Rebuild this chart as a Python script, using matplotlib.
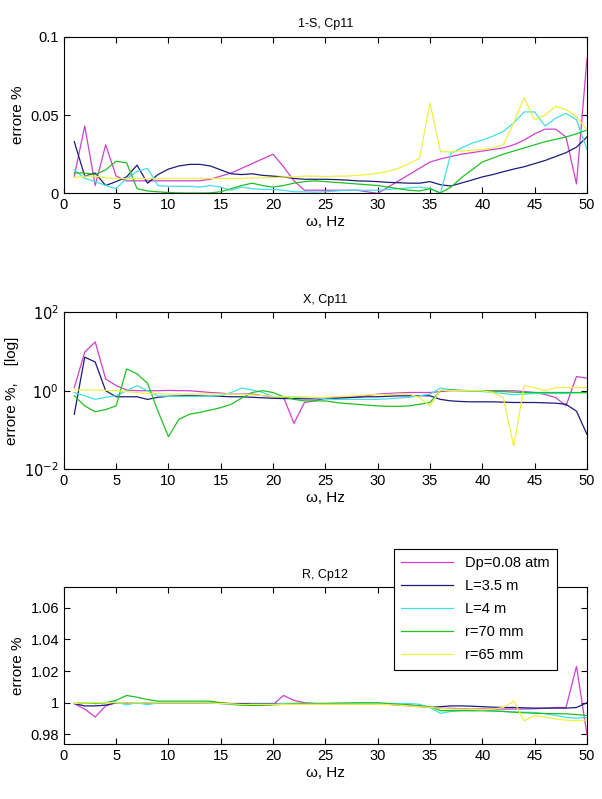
import matplotlib
matplotlib.use("Agg")
import matplotlib.pyplot as plt
import numpy as np

plt.rcParams['font.family'] = ['Liberation Sans', 'DejaVu Sans']

# frequency axis, Hz
freq = np.arange(1, 51)

labels = ['Dp=0.08 atm', 'L=3.5 m', 'L=4 m', 'r=70 mm', 'r=65 mm']
colors = ['#d040d0', '#1c1c7a', '#40e0e8', '#20c020', '#f0f040']

# 1-S, Cp11
s_dp = [0.011, 0.043, 0.005, 0.031, 0.011, 0.008, 0.008, 0.008, 0.008, 0.008,
        0.008, 0.008, 0.008, 0.009, 0.011, 0.013, 0.016, 0.019, 0.022, 0.025,
        0.017, 0.008, 0.002, 0.002, 0.002, 0.002, 0.002, 0.002, 0.001, 0.000,
        0.004, 0.008, 0.012, 0.016, 0.020, 0.022, 0.0235, 0.025, 0.026, 0.027,
        0.028, 0.029, 0.031, 0.034, 0.038, 0.041, 0.041, 0.036, 0.006, 0.086]
s_l35 = [0.033, 0.011, 0.013, 0.005, 0.0075, 0.0105, 0.018, 0.0065, 0.012, 0.0155,
         0.0175, 0.0185, 0.0185, 0.0175, 0.015, 0.0125, 0.012, 0.0125, 0.0115, 0.011,
         0.0105, 0.0095, 0.009, 0.009, 0.009, 0.0088, 0.0085, 0.008, 0.0078, 0.0075,
         0.007, 0.0068, 0.0065, 0.0065, 0.0075, 0.0055, 0.0047, 0.0066, 0.0085, 0.0105,
         0.012, 0.0138, 0.0155, 0.017, 0.019, 0.021, 0.0235, 0.026, 0.0295, 0.036]
s_l4 = [0.015, 0.0095, 0.0075, 0.005, 0.003, 0.0095, 0.014, 0.016, 0.005, 0.0045,
        0.0045, 0.0045, 0.004, 0.005, 0.004, 0.002, 0.004, 0.003, 0.0025, 0.0025,
        0.002, 0.001, 0.001, 0.0008, 0.001, 0.0015, 0.002, 0.002, 0.002, 0.002,
        0.0025, 0.003, 0.0035, 0.004, 0.003, 0.000, 0.0255, 0.029, 0.032, 0.034,
        0.0365, 0.0395, 0.045, 0.052, 0.052, 0.043, 0.048, 0.051, 0.047, 0.028]
s_r70 = [0.013, 0.013, 0.012, 0.015, 0.0205, 0.0195, 0.003, 0.0015, 0.001, 0.0005,
         0.0003, 0.0002, 0.0002, 0.0003, 0.001, 0.003, 0.005, 0.0065, 0.005, 0.004,
         0.005, 0.0065, 0.0075, 0.008, 0.0075, 0.007, 0.0065, 0.006, 0.0055, 0.005,
         0.004, 0.003, 0.002, 0.0015, 0.003, 0.0003, 0.004, 0.010, 0.015, 0.020,
         0.0225, 0.025, 0.027, 0.029, 0.031, 0.033, 0.0345, 0.036, 0.038, 0.0405]
s_r65 = [0.010, 0.011, 0.011, 0.010, 0.0095, 0.0095, 0.0095, 0.0095, 0.0095, 0.0095,
         0.0095, 0.0095, 0.0095, 0.0095, 0.0095, 0.0095, 0.0095, 0.0098, 0.010, 0.010,
         0.0105, 0.0105, 0.011, 0.011, 0.0107, 0.011, 0.011, 0.0115, 0.012, 0.0128,
         0.014, 0.016, 0.019, 0.0224, 0.0577, 0.0267, 0.0265, 0.027, 0.0275, 0.028,
         0.029, 0.031, 0.045, 0.061, 0.047, 0.050, 0.0555, 0.0535, 0.049, 0.0405]

# X, Cp11 (log)
x_dp = [1.2, 9.7, 17.6, 2.0, 1.35, 1.04, 1.0, 1.0, 1.0, 1.02,
        1.0, 1.0, 0.95, 0.9, 0.87, 0.82, 0.82, 0.82, 0.75, 0.7,
        0.68, 0.147, 0.5, 0.55, 0.65, 0.67, 0.68, 0.7, 0.75, 0.82,
        0.85, 0.88, 0.9, 0.9, 0.9, 0.95, 1.0, 1.0, 1.0, 1.0,
        1.0, 1.0, 1.0, 0.95, 0.9, 0.8, 0.67, 0.41, 2.3, 2.1]
x_l35 = [0.25, 7.2, 5.4, 1.0, 0.7, 0.7, 0.7, 0.6, 0.68, 0.72,
         0.74, 0.76, 0.74, 0.72, 0.72, 0.7, 0.7, 0.68, 0.66, 0.64,
         0.63, 0.63, 0.62, 0.62, 0.63, 0.64, 0.66, 0.68, 0.7, 0.7,
         0.72, 0.74, 0.74, 0.75, 0.74, 0.6, 0.55, 0.53, 0.52, 0.52,
         0.52, 0.51, 0.5, 0.5, 0.5, 0.49, 0.48, 0.45, 0.3, 0.077]
x_l4 = [0.9, 0.74, 0.6, 0.68, 0.74, 1.0, 1.35, 1.0, 0.74, 0.72,
        0.72, 0.72, 0.72, 0.72, 0.75, 0.9, 1.17, 1.05, 0.9, 0.7,
        0.68, 0.7, 0.68, 0.66, 0.62, 0.6, 0.6, 0.6, 0.6, 0.6,
        0.62, 0.65, 0.68, 0.74, 0.82, 1.17, 1.05, 1.0, 0.98, 0.95,
        0.9, 0.85, 0.79, 0.82, 0.85, 0.85, 0.85, 0.85, 0.88, 0.9]
x_r70 = [0.74, 0.41, 0.29, 0.33, 0.41, 3.6, 2.7, 1.55, 0.3, 0.067,
         0.186, 0.25, 0.28, 0.32, 0.37, 0.45, 0.65, 0.9, 1.0, 0.9,
         0.7, 0.6, 0.55, 0.55, 0.55, 0.5, 0.47, 0.45, 0.43, 0.41,
         0.4, 0.4, 0.41, 0.45, 0.5, 1.0, 1.05, 1.02, 1.0, 1.0,
         0.98, 0.95, 0.92, 0.9, 0.9, 0.9, 0.9, 0.9, 0.9, 0.9]
x_r65 = [1.04, 1.04, 1.04, 1.02, 1.0, 0.95, 0.9, 0.85, 0.85, 0.82,
         0.82, 0.82, 0.82, 0.82, 0.82, 0.82, 0.8, 0.78, 0.75, 0.72,
         0.7, 0.7, 0.68, 0.67, 0.68, 0.7, 0.72, 0.75, 0.78, 0.8,
         0.8, 0.82, 0.82, 0.67, 0.41, 1.04, 1.0, 1.0, 1.0, 1.0,
         0.9, 0.67, 0.038, 1.35, 1.2, 1.0, 1.2, 1.2, 1.2, 1.2]

# R, Cp12
r_dp = [0.9994, 0.996, 0.991, 0.998, 1.0, 1.0, 1.0, 1.0, 1.0, 1.0,
        1.0, 1.0, 1.0, 1.0, 0.9995, 0.999, 0.999, 0.9985, 0.9985, 0.9988,
        1.0046, 1.0015, 1.0, 0.9995, 0.999, 0.999, 0.999, 0.999, 0.999, 0.999,
        0.999, 0.9985, 0.998, 0.9975, 0.997, 0.9965, 0.9965, 0.9962, 0.996, 0.996,
        0.996, 0.996, 0.996, 0.996, 0.9962, 0.9965, 0.997, 0.997, 1.023, 0.980]
r_l35 = [0.9995, 0.998, 0.998, 0.9985, 1.0, 1.0, 1.0, 1.0, 1.0, 1.0,
         1.0, 1.0, 1.0, 1.0, 0.9998, 0.9995, 0.9995, 0.9995, 0.9995, 0.9995,
         0.9995, 0.9995, 0.9995, 0.9995, 0.9995, 0.9995, 0.9995, 0.9995, 0.9995, 0.9993,
         0.999, 0.9988, 0.9985, 0.998, 0.997, 0.9975, 0.998, 0.998, 0.9978, 0.9975,
         0.9972, 0.997, 0.997, 0.9968, 0.9966, 0.9966, 0.9966, 0.9966, 0.997, 1.0]
r_l4 = [0.9995, 1.0, 1.0, 1.0, 1.0005, 0.9987, 1.0, 0.9987, 1.0, 1.0,
        1.0, 1.0, 1.0, 1.0, 0.9995, 0.999, 0.9985, 0.999, 0.999, 0.999,
        0.9995, 0.9995, 0.9995, 0.9995, 0.9995, 0.9995, 0.9995, 0.9995, 0.9995, 0.9995,
        0.9995, 0.9995, 0.9995, 0.999, 0.997, 0.9933, 0.9945, 0.995, 0.995, 0.995,
        0.9948, 0.9945, 0.9943, 0.994, 0.9939, 0.993, 0.992, 0.9907, 0.9903, 0.9907]
r_r70 = [0.9995, 1.0, 0.9995, 1.0, 1.0015, 1.0046, 1.0035, 1.002, 1.001, 1.001,
         1.001, 1.001, 1.001, 1.001, 1.0, 0.999, 0.9985, 0.9983, 0.9985, 0.9987,
         0.999, 0.9995, 0.9995, 0.9995, 0.9995, 0.9997, 0.9998, 1.0, 1.0, 1.0,
         0.9995, 0.999, 0.9985, 0.998, 0.9975, 0.995, 0.995, 0.995, 0.995, 0.995,
         0.9948, 0.9945, 0.994, 0.9937, 0.9933, 0.9932, 0.9931, 0.993, 0.9925, 0.992]
r_r65 = [0.9995, 1.0, 1.0, 1.0, 1.0, 1.0, 1.0, 1.0, 1.0, 1.0,
         1.0, 1.0, 1.0, 0.9998, 0.9995, 0.9993, 0.999, 0.999, 0.999, 0.999,
         0.999, 0.999, 0.999, 0.999, 0.999, 0.999, 0.999, 0.999, 0.999, 0.999,
         0.9988, 0.9985, 0.998, 0.9975, 0.997, 0.9965, 0.996, 0.996, 0.9958, 0.9955,
         0.996, 0.997, 1.001, 0.9886, 0.9918, 0.991, 0.9897, 0.989, 0.9886, 0.989]

panels = [
    ('1-S, Cp11', 'errore %', [s_dp, s_l35, s_l4, s_r70, s_r65]),
    ('X, Cp11', 'errore %,    [log]', [x_dp, x_l35, x_l4, x_r70, x_r65]),
    ('R, Cp12', 'errore %', [r_dp, r_l35, r_l4, r_r70, r_r65]),
]
bottoms = [0.758, 0.413, 0.069]

fig = plt.figure(figsize=(6.02, 7.99), dpi=100)
axes = []
for (title, ylab, series), b in zip(panels, bottoms):
    ax = fig.add_axes([0.106, b, 0.869, 0.196])
    for vals, c, lab in zip(series, colors, labels):
        ax.plot(freq, vals, color=c, lw=0.9, label=lab)
    ax.set_xlim(0, 50)
    ax.set_xticks(np.arange(0, 51, 5))
    ax.set_title(title, fontsize=9, pad=7)
    ax.set_xlabel('ω, Hz', fontsize=11, labelpad=2)
    ax.set_ylabel(ylab, fontsize=11, labelpad=4)
    ax.tick_params(direction='in', top=True, right=True, labelsize=10.5,
                   length=4, width=0.8)
    for sp in ax.spines.values():
        sp.set_linewidth(0.8)
    axes.append(ax)

axes[0].set_ylim(0, 0.1)
axes[0].set_yticks([0, 0.05, 0.1])
axes[0].set_yticklabels(['0', '0.05', '0.1'])

axes[1].set_yscale('log')
axes[1].set_ylim(1e-2, 1e2)
axes[1].set_yticks([1e-2, 1, 1e2])
axes[1].set_yticklabels(['$10^{-2}$', '$10^{0}$', '$10^{2}$'])
axes[1].yaxis.set_minor_locator(matplotlib.ticker.NullLocator())

axes[2].set_ylim(0.974, 1.073)
axes[2].set_yticks([0.98, 1.0, 1.02, 1.04, 1.06])
axes[2].set_yticklabels(['0.98', '1', '1.02', '1.04', '1.06'])

leg = axes[2].legend(loc='upper left', bbox_to_anchor=(0.654, 0.313),
                     bbox_transform=fig.transFigure, borderaxespad=0,
                     fontsize=10.5, fancybox=False, framealpha=1,
                     edgecolor='black', handlelength=3.6, borderpad=0.5,
                     labelspacing=0.62)
leg.get_frame().set_linewidth(0.8)
leg.set_zorder(10)

fig.savefig('out.png', dpi=100)
